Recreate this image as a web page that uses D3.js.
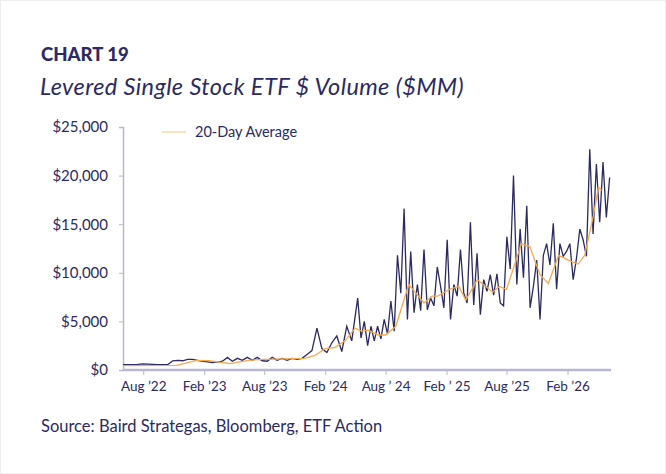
<!DOCTYPE html><html><head><meta charset="utf-8">
<script src="https://cdn.jsdelivr.net/npm/d3@7"></script>
<style>body{margin:0;background:#fff;font-family:Lato,sans-serif}</style></head><body>
<svg id="c" width="666" height="474"></svg>
<script>
const earlyStart="2022-06-01", earlyStepDays=15;
const earlyValues=[550,550,560,580,620,600,580,560,560,560,950,1000,950,1100,1100,1000,900,850,750,800,900,1300,900,1200,1000,1300,1000,1300,950,900,1300,1000,1200,1000,1200,1100,1200,1600,2000,4300,2200,1800,2800,3500,1900,4500,3000];
const lateStart="2024-05-09", lateStepDays=10;
const lateValues=[7400,3300,5000,2500,4500,3000,4500,3200,5200,3700,7100,4000,11800,7900,16600,5200,12200,5900,8800,6100,12400,6200,7400,6600,10600,8600,6400,13400,5200,8800,7600,12400,7900,6900,15200,6700,12000,5700,9300,8100,9800,7700,9900,6900,6600,13700,10400,20000,8800,14500,9500,16900,6400,8600,11300,5200,11800,13000,10800,15100,8300,13000,11700,12200,13000,9300,11500,14500,13400,11700,22700,14000,21200,15200,21400,15700,19800];
const avgDates=["2022-06-01","2022-11-10","2023-01-10","2023-02-15","2023-04-20","2023-06-15","2023-08-01","2023-10-01","2023-12-01","2024-01-01","2024-02-01","2024-03-01","2024-04-01","2024-05-01","2024-05-20","2024-06-10","2024-07-10","2024-08-01","2024-09-01","2024-10-10","2024-11-25","2024-12-20","2025-01-05","2025-02-10","2025-03-10","2025-03-31","2025-05-05","2025-06-20","2025-07-10","2025-08-01","2025-09-15","2025-10-10","2025-11-10","2025-12-05","2026-01-05","2026-02-10","2026-03-05","2026-03-25","2026-04-20","2026-05-05","2026-05-15"];
const avgValues=[450,480,1000,950,650,1000,1100,1150,1200,1500,2200,2300,3000,4300,4000,4100,3600,3600,4500,8800,6900,7600,7600,8300,8600,7200,9300,8000,8600,8300,13000,12700,9800,8900,11800,11200,10900,11800,15900,18800,18500];
const xTickDates=["2022-08-01","2023-02-01","2023-08-01","2024-02-01","2024-08-01","2025-02-01","2025-08-01","2026-02-01"];
const xTickLabels=["Aug \u201922","Feb \u201923","Aug \u201923","Feb \u201924","Aug \u2019 24","Feb \u2019 25","Aug \u201925","Feb \u201926"];
const yTicks=[0,5000,10000,15000,20000,25000];

const P=d3.timeParse("%Y-%m-%d");
const main=[];
earlyValues.forEach((v,i)=>main.push([d3.timeDay.offset(P(earlyStart),i*earlyStepDays),v]));
lateValues.forEach((v,i)=>main.push([d3.timeDay.offset(P(lateStart),i*lateStepDays),v]));
const avg=avgDates.map((d,i)=>[P(d),avgValues[i]]);

const svg=d3.select("#c"), navy="#2b2a63", axisC="#b9b6d3";
svg.append("rect").attr("x",0.5).attr("y",0.5).attr("width",665).attr("height",473).attr("fill","none").attr("stroke","#eeeeee");
svg.append("text").attr("x",41).attr("y",61).attr("fill",navy).attr("font-weight",900).attr("font-size",18.5).text("CHART 19");
svg.append("text").attr("x",40).attr("y",95).attr("fill",navy).attr("font-style","italic").attr("font-size",23.5).attr("letter-spacing",0.4).text("Levered Single Stock ETF $ Volume ($MM)");
svg.append("text").attr("x",41).attr("y",432).attr("fill",navy).attr("font-size",16.5).text("Source:  Baird Strategas, Bloomberg, ETF Action");

const x=d3.scaleTime().domain([P("2022-06-01"),P("2026-05-25")]).range([123,605]);
const y=d3.scaleLinear().domain([0,25000]).range([370,127]);

const ya=svg.append("g").attr("transform","translate(123,0)").call(d3.axisLeft(y).tickValues(yTicks).tickSize(4).tickPadding(11).tickFormat(d=>"$"+d3.format(",")(d)));
ya.select(".domain").attr("stroke",axisC).attr("stroke-width",1.5);
ya.selectAll("line").attr("stroke",axisC);
ya.selectAll("text").attr("fill",navy).attr("font-size",15).attr("font-family","Lato");
const xa=svg.append("g").attr("transform","translate(0,370)").call(d3.axisBottom(x).tickValues(xTickDates.map(P)).tickSize(5).tickPadding(6).tickFormat((d,i)=>xTickLabels[i]));
xa.select(".domain").attr("stroke",axisC).attr("stroke-width",2.5).attr("d","M123,0H611");
xa.selectAll("line").attr("stroke",axisC);
xa.selectAll("text").attr("fill",navy).attr("font-size",13.5).attr("font-family","Lato");

const line=d3.line().x(d=>x(d[0])).y(d=>y(d[1]));
svg.append("path").datum(main).attr("d",line).attr("fill","none").attr("stroke",navy).attr("stroke-width",1.3);
svg.append("path").datum(avg).attr("d",line).attr("fill","none").attr("stroke","#f6a94d").attr("stroke-width",1.3);

svg.append("line").attr("x1",162).attr("x2",186).attr("y1",132).attr("y2",132).attr("stroke","#fbd9a8").attr("stroke-width",1.5);
svg.append("text").attr("x",195).attr("y",137).attr("fill",navy).attr("font-size",14.5).text("20-Day Average");
</script></body></html>
